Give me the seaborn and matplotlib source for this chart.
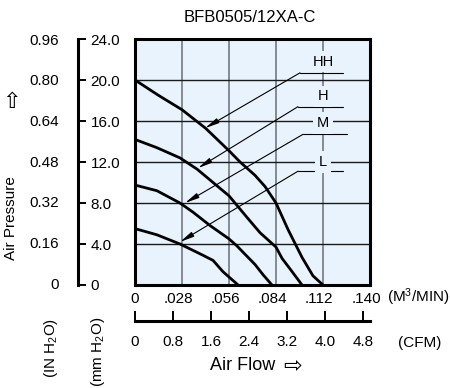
import matplotlib
matplotlib.use("Agg")
import matplotlib.pyplot as plt
from matplotlib.transforms import ScaledTranslation
import seaborn as sns
import numpy as np
import pandas as pd

# 曲线数据: 风量 (M3/MIN) 与 静压 (mmH2O)
hh_flow = [0, .014, .028, .042, .056, .0626, .0715, .0775, .084, .0912, .0995, .106, .112]
hh_mm = [20.0, 18.5, 17.1, 15.3, 13.1, 12.0, 10.7, 9.6, 8.0, 5.4, 2.7, 0.9, 0]

h_flow = [0, .013, .0268, .037, .0465, .056, .0667, .0745, .084, .0876, .0936, .0995]
h_mm = [14.2, 13.4, 12.4, 11.3, 10.0, 8.7, 6.6, 5.1, 3.7, 2.6, 1.3, 0]

m_flow = [0, .013, .0268, .0346, .0447, .056, .0608, .0715, .0763, .0816]
m_mm = [9.75, 9.2, 8.0, 7.1, 5.8, 4.5, 3.8, 2.0, 1.0, 0]

l_flow = [0, .013, .0268, .0405, .0465, .0524, .0614]
l_mm = [5.5, 4.9, 4.0, 2.9, 2.4, 1.3, 0]

speeds = ["HH", "H", "M", "L"]

# 坐标刻度
m3_ticks = [0, .028, .056, .084, .112, .140]
m3_labels = ["0", ".028", ".056", ".084", ".112", ".140"]
cfm_ticks = [0, 0.8, 1.6, 2.4, 3.2, 4.0, 4.8]
cfm_labels = ["0", "0.8", "1.6", "2.4", "3.2", "4.0", "4.8"]
mm_ticks = [0, 4, 8, 12, 16, 20, 24]
mm_labels = ["0", "4.0", "8.0", "12.0", "16.0", "20.0", "24.0"]
in_ticks = [0, .16, .32, .48, .64, .80, .96]
in_labels = ["0", "0.16", "0.32", "0.48", "0.64", "0.80", "0.96"]

M3_PER_CFM = 0.0283168

df = pd.concat([
    pd.DataFrame({"flow": hh_flow, "mm": hh_mm, "speed": "HH"}),
    pd.DataFrame({"flow": h_flow, "mm": h_mm, "speed": "H"}),
    pd.DataFrame({"flow": m_flow, "mm": m_mm, "speed": "M"}),
    pd.DataFrame({"flow": l_flow, "mm": l_mm, "speed": "L"}),
], ignore_index=True)

# 标签及引线 (标签位置, 引线水平段, 箭头终点)
callouts = {
    "HH": dict(text=(.112, 21.8), y=20.7, x0=.0983, x1=.1239, tip=(.0417, 15.3)),
    "H": dict(text=(.112, 18.4), y=17.4, x0=.0971, x1=.1239, tip=(.0375, 11.4)),
    "M": dict(text=(.112, 15.8), y=14.7, x0=.1001, x1=.1263, tip=(.0298, 8.0)),
    "L": dict(text=(.112, 12.0), y=11.1, x0=.0971, x1=.1239, tip=(.0268, 4.2)),
}

sns.set_theme(style="white")
plt.rcParams["font.family"] = ["Liberation Sans", "DejaVu Sans"]
plt.rcParams["mathtext.default"] = "regular"
for key in ["text.color", "xtick.color", "ytick.color", "axes.labelcolor", "axes.edgecolor"]:
    plt.rcParams[key] = "black"

W, H = 450, 388
BG = "#e8f3fd"
fig = plt.figure(figsize=(W / 100, H / 100), dpi=100)

def px_rect(x0, y0, x1, y1):
    return [x0 / W, (H - y1) / H, (x1 - x0) / W, (y1 - y0) / H]

ax = fig.add_axes(px_rect(135, 39, 370, 285))
ax.set_facecolor(BG)
sns.lineplot(data=df, x="flow", y="mm", hue="speed", hue_order=speeds,
             palette={s: "black" for s in speeds}, sort=False, estimator=None,
             linewidth=2.0, legend=False, ax=ax, zorder=3)
ax.set_xlim(0, .140)
ax.set_ylim(0, 24)
for x in m3_ticks[1:-1]:
    ax.axvline(x, color="#6a6f75", lw=1.1, zorder=1)
for y in mm_ticks[1:-1]:
    ax.axhline(y, color="#1a1a1a", lw=1.0, zorder=1)
for sp in ax.spines.values():
    sp.set_linewidth(2.2)
    sp.set_color("black")
ax.set_xlabel("")
ax.set_ylabel("")
ax.set_yticks([])
ax.set_xticks(m3_ticks)
ax.set_xticklabels(m3_labels, fontsize=11)
ax.tick_params(axis="x", length=0, pad=5)
shift = ScaledTranslation(-4 / 100, 0, fig.dpi_scale_trans)
for lab in ax.get_xticklabels()[1:]:
    lab.set_transform(lab.get_transform() + shift)

for name, c in callouts.items():
    ax.plot([c["x0"], c["x1"]], [c["y"], c["y"]], color="black", lw=0.8, zorder=4)
    ax.annotate("", xy=c["tip"], xytext=(c["x0"], c["y"]),
                arrowprops=dict(arrowstyle="-|>,head_length=0.7,head_width=0.13",
                                color="black", lw=0.8, shrinkA=0, shrinkB=0),
                zorder=4)
    ax.text(c["text"][0], c["text"][1], name, ha="center", va="center", fontsize=10.5,
            zorder=5, bbox=dict(boxstyle="square,pad=0.25", fc=BG, ec="none"))

# CFM 副轴
sec = ax.secondary_xaxis(-0.146, functions=(lambda x: x / M3_PER_CFM, lambda c: c * M3_PER_CFM))
sec.set_xticks(cfm_ticks)
sec.set_xticklabels(cfm_labels, fontsize=11)
sec.tick_params(direction="in", length=7, width=1.4, pad=10, colors="black")
sec.spines["bottom"].set_linewidth(2.2)
sec.spines["bottom"].set_color("black")

# mmH2O 轴
ax_mm = fig.add_axes(px_rect(76, 39, 78, 285))
ax_mm.set_ylim(0, 24)
ax_mm.patch.set_alpha(0)
for side in ["left", "top", "bottom"]:
    ax_mm.spines[side].set_visible(False)
ax_mm.spines["right"].set_linewidth(2.2)
ax_mm.spines["right"].set_color("black")
ax_mm.yaxis.tick_right()
ax_mm.set_yticks(mm_ticks)
ax_mm.set_yticklabels(mm_labels, fontsize=11)
ax_mm.set_xticks([])
ax_mm.tick_params(axis="y", direction="out", length=6, width=1.4, pad=3)

# IN H2O 轴 (只有刻度文字)
ax_in = fig.add_axes(px_rect(62, 39, 63, 285))
ax_in.set_ylim(-0.0077, 0.933)
ax_in.patch.set_alpha(0)
for sp in ax_in.spines.values():
    sp.set_visible(False)
ax_in.set_yticks(in_ticks)
ax_in.set_yticklabels(in_labels, fontsize=11)
ax_in.set_xticks([])
ax_in.tick_params(axis="y", length=0, pad=2)

def ftext(x, y, s, **kw):
    fig.text(x / W, 1 - y / H, s, **kw)

ftext(250, 17, "BFB0505/12XA-C", ha="center", va="center", fontsize=12)
ftext(387, 297, "(M$^3$/MIN)", ha="left", va="center", fontsize=11)
ftext(398, 343, "(CFM)", ha="left", va="center", fontsize=11)
ftext(243, 365, "Air Flow", ha="center", va="center", fontsize=13)
ftext(293, 366, "\u21e8", ha="center", va="center", fontsize=16)
ftext(11, 218, "Air Pressure", ha="center", va="center", rotation=90, fontsize=11)
ftext(12, 102, "\u21e7", ha="center", va="center", fontsize=16)
ftext(51, 348, "(IN H$_2$O)", ha="center", va="center", rotation=90, fontsize=11)
ftext(98, 352, "(mm H$_2$O)", ha="center", va="center", rotation=90, fontsize=11)

fig.savefig("out.png", dpi=100)
